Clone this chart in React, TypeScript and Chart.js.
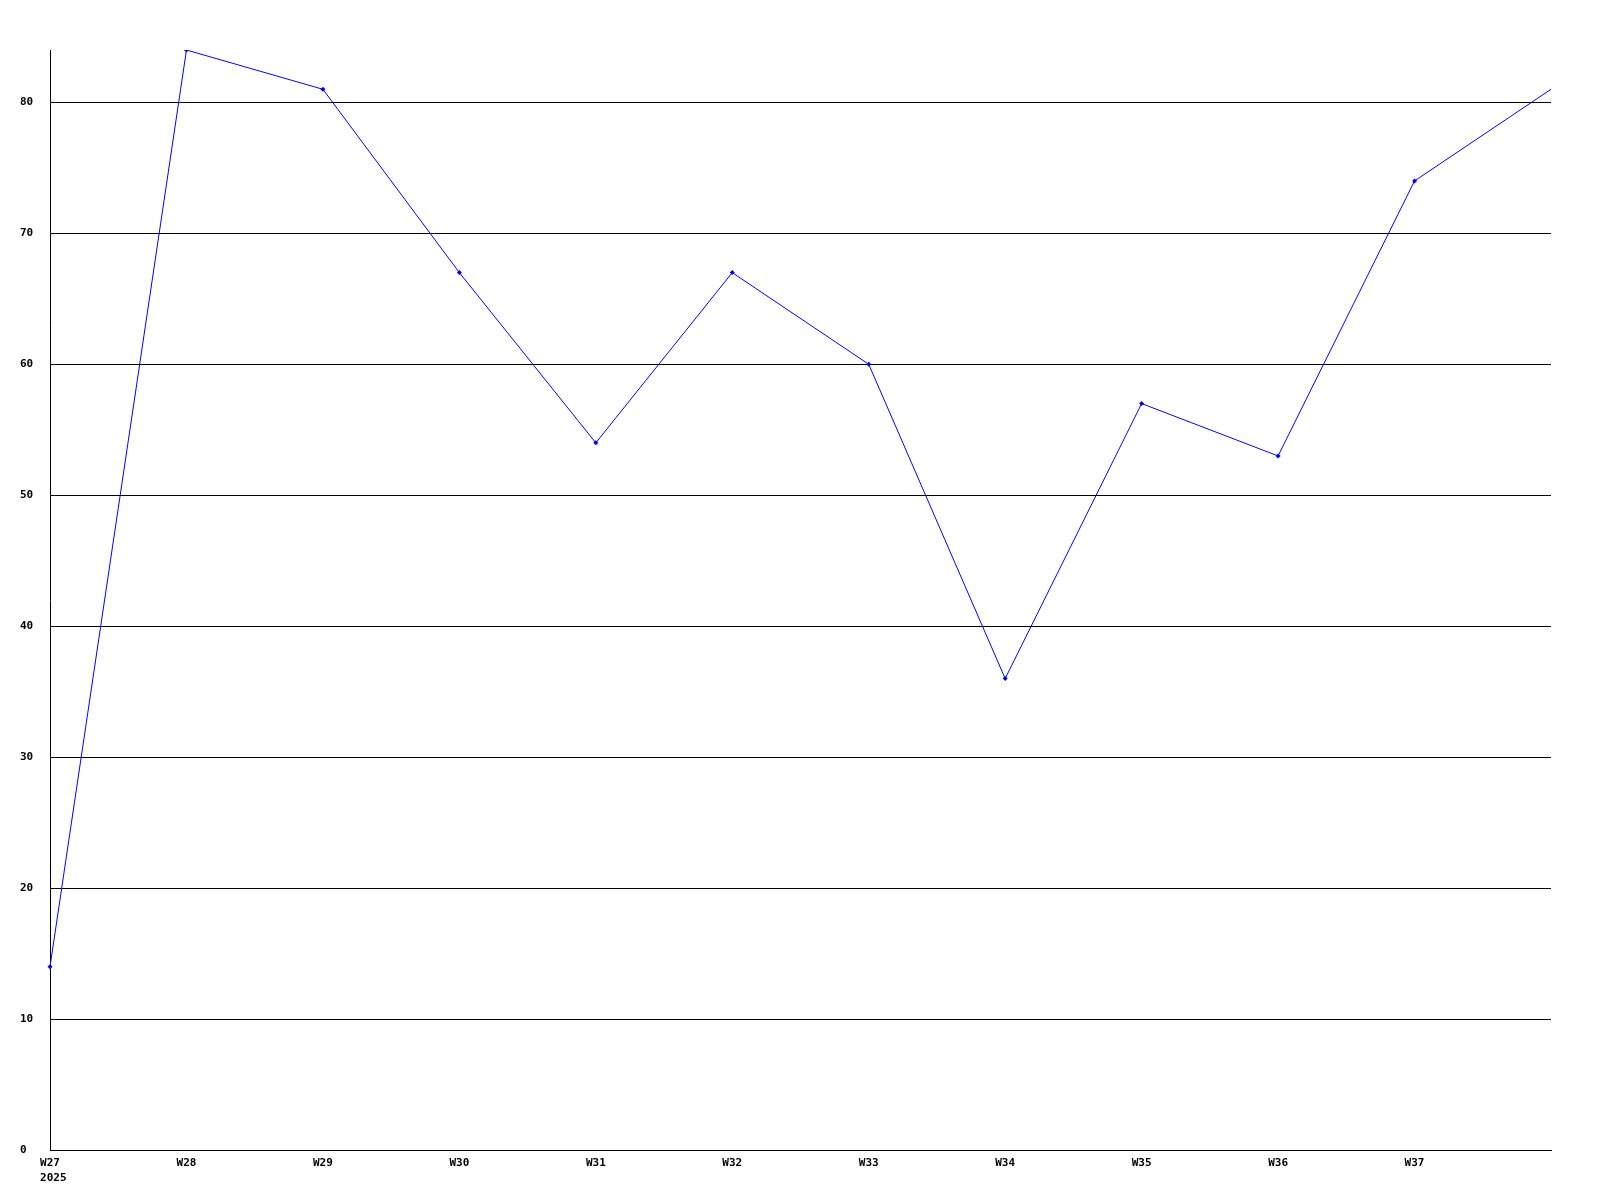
import React, { useEffect, useRef } from "react";
import { Chart, registerables } from "chart.js";

Chart.register(...registerables);

const weeks = ["W27", "W28", "W29", "W30", "W31", "W32", "W33", "W34", "W35", "W36", "W37", "W38"];
const yearLabel = "2025";
const values = [14, 84, 81, 67, 54, 67, 60, 36, 57, 53, 74, 81];
const yTicks = [0, 10, 20, 30, 40, 50, 60, 70, 80];
const yMax = 84;

const FONT_FAMILY = "'DejaVu Sans Mono', monospace";

const yearPlugin = {
  id: "yearLabel",
  afterDraw(chart: any) {
    const x = chart.scales.x;
    const ctx = chart.ctx;
    ctx.save();
    ctx.font = `bold 11px ${FONT_FAMILY}`;
    ctx.fillStyle = "#000";
    ctx.textAlign = "left";
    ctx.textBaseline = "top";
    const px = x.getPixelForTick(0);
    const w = ctx.measureText(weeks[0]).width;
    ctx.fillText(yearLabel, px - w / 2, x.top + 23);
    ctx.restore();
  },
};

export default function App() {
  const ref = useRef<HTMLCanvasElement | null>(null);
  useEffect(() => {
    if (!ref.current) return;
    const font = { family: FONT_FAMILY, size: 11, weight: "bold" as const, lineHeight: 1.35 };
    const chart = new Chart(ref.current, {
      type: "line",
      data: {
        labels: weeks,
        datasets: [
          {
            data: values,
            borderColor: "#0000ff",
            backgroundColor: "#0000ff",
            borderWidth: 1,
            tension: 0,
            pointStyle: "rectRot",
            pointRadius: (c: any) => (c.dataIndex === values.length - 1 ? 0 : 2.5),
            pointBorderWidth: 0,
            fill: false,
          },
        ],
      },
      options: {
        responsive: false,
        animation: false,
        layout: { padding: { left: 20, top: 50, right: 49, bottom: 0 } },
        plugins: { legend: { display: false }, tooltip: { enabled: false } },
        scales: {
          x: {
            type: "category",
            offset: false,
            grid: { display: false, drawTicks: false },
            border: { display: true, color: "#000", width: 1 },
            afterFit: (s: any) => { s.height = 50; },
            ticks: {
              color: "#000",
              font,
              padding: 6,
              autoSkip: false,
              maxRotation: 0,
              minRotation: 0,
              callback: (_v: any, i: number) => (i === weeks.length - 1 ? "" : weeks[i]),
            },
          },
          y: {
            type: "linear",
            min: 0,
            max: yMax,
            afterBuildTicks: (s: any) => { s.ticks = yTicks.map((v) => ({ value: v })); },
            afterFit: (s: any) => { s.width = 30; },
            grid: { color: "#000", lineWidth: 1, drawTicks: false },
            border: { display: true, color: "#000", width: 1 },
            ticks: { color: "#000", font, crossAlign: "far", padding: 0, callback: (v: any) => String(v) },
          },
        },
      },
      plugins: [yearPlugin],
    });
    return () => chart.destroy();
  }, []);
  return (
    <div style={{ position: "absolute", left: 0, top: 0, width: 1600, height: 1200, background: "#fff" }}>
      <canvas ref={ref} width={1600} height={1200} style={{ display: "block" }} />
    </div>
  );
}
